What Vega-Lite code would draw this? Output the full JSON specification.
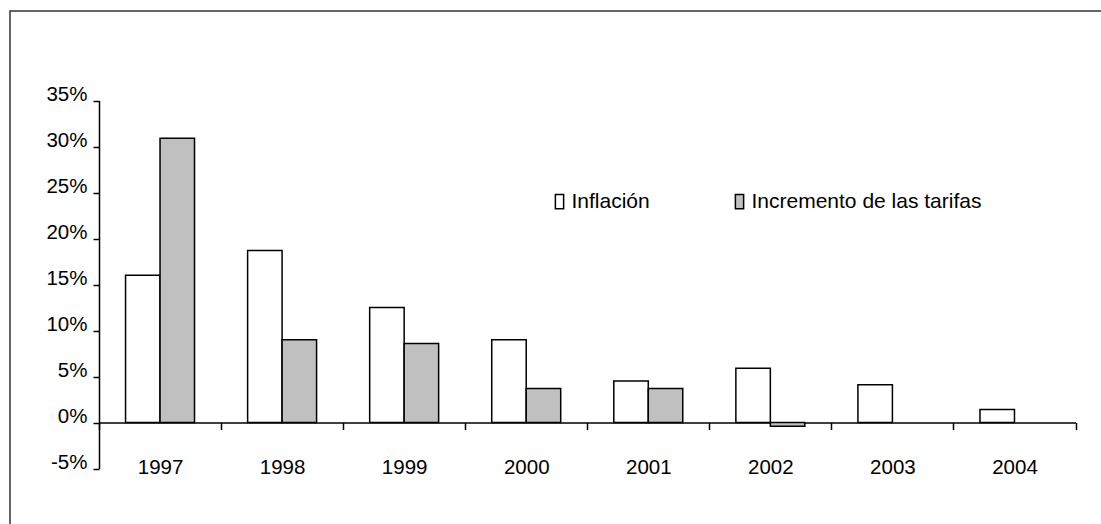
{
  "$schema": "https://vega.github.io/schema/vega-lite/v6.json",
  "autosize": {"type": "none"},
  "padding": {"left": 10, "top": 11, "right": 0, "bottom": 0},
  "width": 1100,
  "height": 530,
  "background": "white",
  "config": {
    "font": "Liberation Sans",
    "view": {"stroke": "#333333", "strokeWidth": 1.5},
    "axis": {
      "domainColor": "black",
      "domainWidth": 1.5,
      "tickColor": "black",
      "tickWidth": 1.5,
      "labelColor": "black",
      "labelFont": "Liberation Sans",
      "labelFontSize": 20.5,
      "grid": false,
      "title": null,
      "labelOverlap": false,
      "labelFlush": false
    }
  },
  "data": {
    "values": [
      {"anio": "1997", "serie": "Inflación", "valor": 16.0},
      {"anio": "1997", "serie": "Incremento de las tarifas", "valor": 30.9},
      {"anio": "1998", "serie": "Inflación", "valor": 18.7},
      {"anio": "1998", "serie": "Incremento de las tarifas", "valor": 9.0},
      {"anio": "1999", "serie": "Inflación", "valor": 12.5},
      {"anio": "1999", "serie": "Incremento de las tarifas", "valor": 8.6},
      {"anio": "2000", "serie": "Inflación", "valor": 9.0},
      {"anio": "2000", "serie": "Incremento de las tarifas", "valor": 3.7},
      {"anio": "2001", "serie": "Inflación", "valor": 4.5},
      {"anio": "2001", "serie": "Incremento de las tarifas", "valor": 3.7},
      {"anio": "2002", "serie": "Inflación", "valor": 5.9},
      {"anio": "2002", "serie": "Incremento de las tarifas", "valor": -0.4},
      {"anio": "2003", "serie": "Inflación", "valor": 4.1},
      {"anio": "2004", "serie": "Inflación", "valor": 1.4}
    ]
  },
  "mark": {"type": "bar", "stroke": "black", "strokeWidth": 1.5},
  "encoding": {
    "x": {
      "field": "anio",
      "type": "nominal",
      "scale": {"range": [89, 1065.5], "paddingInner": 0, "paddingOuter": 0},
      "axis": {
        "orient": "bottom",
        "offset": -118.5,
        "labelAngle": 0,
        "tickBand": "extent",
        "tickSize": 7,
        "labelPadding": 27.5
      }
    },
    "xOffset": {
      "field": "serie",
      "type": "nominal",
      "sort": ["Inflación", "Incremento de las tarifas"],
      "scale": {"paddingInner": 0, "paddingOuter": 0.77}
    },
    "y": {
      "field": "valor",
      "type": "quantitative",
      "scale": {"domain": [-5, 35], "range": [457.5, 89.5], "nice": false, "zero": false},
      "axis": {
        "orient": "left",
        "offset": -89,
        "values": [-5, 0, 5, 10, 15, 20, 25, 30, 35],
        "labelExpr": "datum.value + '%'",
        "tickSize": 6,
        "labelPadding": 6,
        "labelBaseline": "alphabetic"
      }
    },
    "color": {
      "field": "serie",
      "type": "nominal",
      "scale": {"domain": ["Inflación", "Incremento de las tarifas"], "range": ["white", "#c0c0c0"]},
      "legend": {
        "orient": "none",
        "legendX": 539,
        "legendY": 180,
        "direction": "horizontal",
        "title": null,
        "padding": 0,
        "symbolType": "M-0.55,-0.95H0.55V0.95H-0.55Z",
        "symbolSize": 225,
        "symbolStrokeColor": "black",
        "symbolStrokeWidth": 1.5,
        "labelFontSize": 21,
        "labelColor": "black",
        "labelFont": "Liberation Sans",
        "labelLimit": 0,
        "labelOffset": 1.5,
        "columnPadding": 79
      }
    }
  }
}
